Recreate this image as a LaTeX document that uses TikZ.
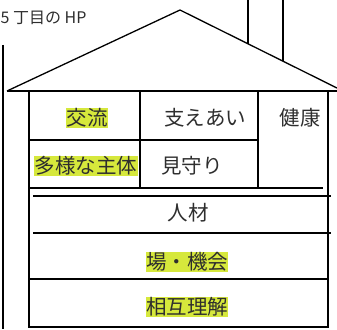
\documentclass[tikz,border=0pt]{standalone}
\usepackage{fontspec}
\newfontfamily\jpfont{Noto Sans CJK JP}
\definecolor{marker}{HTML}{D6E83C}
\definecolor{ink}{HTML}{2E2E2E}

\begin{document}
\begin{tikzpicture}[x = 1pt, y = -1pt, line width = 1.3pt,
	word/.style = {font = \jpfont\fontsize{20.5}{24}\selectfont, text = ink, inner sep = 0.4pt},
	marked/.style = {word, fill = marker}]

	\useasboundingbox (0, 0) rectangle (337, 329);

	% The title

	\node [font = \jpfont\fontsize{16}{19}\selectfont, text = ink, anchor = west, inner sep = 0pt] (title) at (0, 18) {5 丁目の HP};

	% The wall behind

	\draw (3, 45) -- (3, 329);

	% The roof

	\coordinate (eaveL) at (7, 91);
	\coordinate (peak) at (180, 10);
	\coordinate (eaveR) at (345, 92);
	\draw (eaveL) -- (peak) -- (eaveR);
	\draw (eaveL) -- (337, 91);

	% The chimney

	\draw (248, 0) -- (248, 44);
	\draw (283, 0) -- (283, 61);

	% The house

	\draw (29, 91) -- (29, 327) -- (328, 327) -- (328, 91);

	\begin{scope}[line width = 1.1pt]

		\draw (140, 91) -- (140, 188);
		\draw (258, 91) -- (258, 188);
		\draw (29, 140) -- (258, 140);
		\draw (29, 188) -- (323, 188);
		\draw (33, 196) -- (331, 196);
		\draw (33, 233) -- (331, 233);
		\draw (29, 279) -- (328, 279);

	\end{scope}

	% The words

	\node [marked] (exchange) at (87, 118) {交流};
	\node [word] (support) at (205, 118) {支えあい};
	\node [word] (health) at (300, 118) {健康};
	\node [marked] (actors) at (86, 166) {多様な主体};
	\node [word] (watch) at (192, 166) {見守り};
	\node [word] (people) at (188, 213) {人材};
	\node [marked] (places) at (187, 262) {場・機会};
	\node [marked] (mutual) at (187, 307) {相互理解};

\end{tikzpicture}
\end{document}
